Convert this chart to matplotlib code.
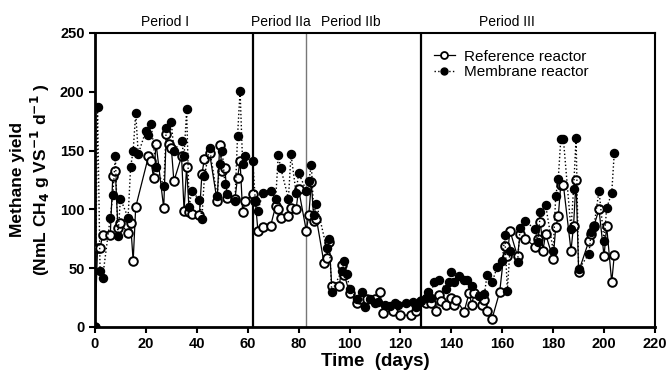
import matplotlib
matplotlib.use("Agg")
import matplotlib.pyplot as plt
from matplotlib.lines import Line2D

plt.rcParams["font.family"] = ["Liberation Sans", "DejaVu Sans"]

# Reference reactor (open circles, solid line)
ref_days = [0, 1, 2, 3, 6, 7, 8, 9, 10, 13, 14, 15, 16, 21, 22, 23, 24, 27, 28, 29, 30, 31,
            34, 35, 36, 37, 38, 41, 42, 43, 45, 48, 49, 50, 51, 52, 55, 56, 57, 58, 59, 62,
            63, 64, 66, 69, 71, 72, 73, 76, 77, 79, 80, 83, 84, 85, 86, 87,
            90, 91, 92, 93, 96, 97, 98, 100, 103, 104, 107, 110, 112, 113, 117, 120, 124, 126,
            128, 130, 132, 134, 135, 136, 138, 140, 141, 142, 145, 147, 148, 149, 152, 153, 154,
            156, 159, 161, 162, 163, 166, 167, 169, 173, 174, 175, 176, 177, 180, 181, 182,
            183, 184, 187, 188, 189, 190, 194, 195, 196, 198, 200, 201, 203, 204]
ref_yield = [0, 67, 67, 78, 78, 128, 133, 84, 88, 80, 88, 56, 102, 145, 141, 127, 156, 101, 164, 156, 152, 124,
             145, 99, 136, 98, 96, 95, 130, 143, 148, 107, 155, 133, 135, 110, 109, 127, 141, 98, 107, 113,
             107, 82, 85, 86, 103, 100, 93, 94, 101, 100, 117, 82, 95, 123, 90, 92,
             54, 59, 72, 35, 35, 53, 44, 29, 20, 24, 24, 24, 30, 12, 14, 10, 10, 14,
             22, 20, 20, 14, 27, 22, 19, 25, 19, 23, 13, 29, 19, 29, 19, 23, 14,
             7, 30, 69, 60, 82, 60, 79, 75, 68, 75, 89, 65, 79, 58, 85, 94,
             121, 121, 65, 86, 125, 47, 73, 79, 86, 100, 60, 86, 38, 61]

# Membrane reactor (filled circles, dotted line)
mem_days = [0, 1, 2, 3, 6, 7, 8, 9, 10, 13, 14, 15, 16, 17, 20, 21, 22, 24, 27, 28, 30, 31,
            34, 35, 36, 37, 38, 41, 42, 43, 45, 48, 49, 50, 51, 52, 55, 56, 57, 58, 59, 62,
            63, 64, 66, 69, 71, 72, 73, 76, 77, 79, 80, 83, 84, 85, 86, 87,
            91, 92, 93, 97, 98, 99, 100, 103, 105, 106, 108, 110, 111, 114, 116, 118, 119, 122, 125, 126,
            128, 130, 131, 132, 133, 135, 138, 139, 140, 141, 143, 145, 146, 148, 151, 153, 154,
            156, 158, 160, 161, 162, 163, 166, 167, 169, 173, 174, 175, 177, 180, 181, 182,
            183, 184, 187, 188, 189, 190, 194, 195, 196, 198, 200, 201, 203, 204]
mem_yield = [0, 187, 48, 42, 93, 112, 145, 77, 109, 93, 136, 150, 182, 147, 167, 163, 173, 136, 120, 169, 174, 150,
             158, 145, 185, 102, 116, 108, 92, 128, 152, 111, 139, 150, 122, 113, 107, 162, 201, 139, 145, 141,
             107, 99, 114, 116, 109, 146, 135, 109, 147, 114, 131, 116, 124, 138, 95, 105,
             67, 75, 30, 48, 56, 45, 32, 24, 30, 17, 24, 20, 21, 19, 18, 20, 19, 20, 21, 17,
             22, 25, 30, 25, 38, 40, 32, 38, 47, 38, 43, 40, 40, 35, 26, 28, 44,
             38, 51, 56, 78, 31, 65, 55, 84, 90, 83, 72, 98, 104, 65, 111, 126,
             160, 160, 83, 117, 161, 49, 62, 81, 85, 116, 73, 101, 114, 148]

period_bounds = [62, 83, 128]
period_names = ["Period I", "Period IIa", "Period IIb", "Period III"]
period_mids = [27.5, 73, 100.5, 162]

fig = plt.figure(figsize=(6.67, 3.8), dpi=100)
ax = fig.add_axes([0.1424, 0.1395, 0.8396, 0.7737])

ax.plot(ref_days, ref_yield, color="black", linestyle="-", linewidth=0.9,
        marker="o", markersize=6.2, markerfacecolor="white", markeredgecolor="black",
        markeredgewidth=1.4, zorder=3)
ax.plot(mem_days, mem_yield, color="black", linestyle=":", linewidth=1.0,
        marker="o", markersize=5.8, markerfacecolor="black", markeredgecolor="black", zorder=4)

ax.axvline(period_bounds[0], color="black", linewidth=1.6, zorder=1)
ax.axvline(period_bounds[1], color="#777777", linewidth=1.0, zorder=1)
ax.axvline(period_bounds[2], color="black", linewidth=1.6, zorder=1)

for name, mid in zip(period_names, period_mids):
    ax.text(mid, 253, name, ha="center", va="bottom", fontsize=10)

ax.set_xlim(0, 220)
ax.set_ylim(0, 250)
ax.set_xticks(range(0, 221, 20))
ax.set_yticks(range(0, 251, 50))
for lab in ax.get_xticklabels() + ax.get_yticklabels():
    lab.set_fontweight("bold")
ax.tick_params(labelsize=10.5, width=1.5, length=4, direction="out")

for side in ["left", "bottom"]:
    ax.spines[side].set_linewidth(2)
for side in ["top", "right"]:
    ax.spines[side].set_linewidth(1.5)

ax.set_xlabel("Time  (days)", fontsize=13.5, fontweight="bold", labelpad=1)
ax.set_ylabel("Methane yield\n(NmL CH$_\\mathbf{4}$ g VS$^\\mathbf{-1}$ d$^\\mathbf{-1}$ )",
              fontsize=12.5, fontweight="bold", labelpad=6)

handles = [
    Line2D([], [], color="black", linestyle="-", linewidth=0.9, marker="o", markersize=5,
           markerfacecolor="white", markeredgecolor="black", markeredgewidth=1.3),
    Line2D([], [], color="black", linestyle=":", linewidth=1.0, marker="o", markersize=5,
           markerfacecolor="black"),
]
ax.legend(handles, ["Reference reactor", "Membrane reactor"], loc="upper left",
          bbox_to_anchor=(0.58, 0.99), frameon=False, fontsize=11,
          handlelength=1.4, handletextpad=0.6, labelspacing=0.1)

fig.savefig("out.png", dpi=100)
